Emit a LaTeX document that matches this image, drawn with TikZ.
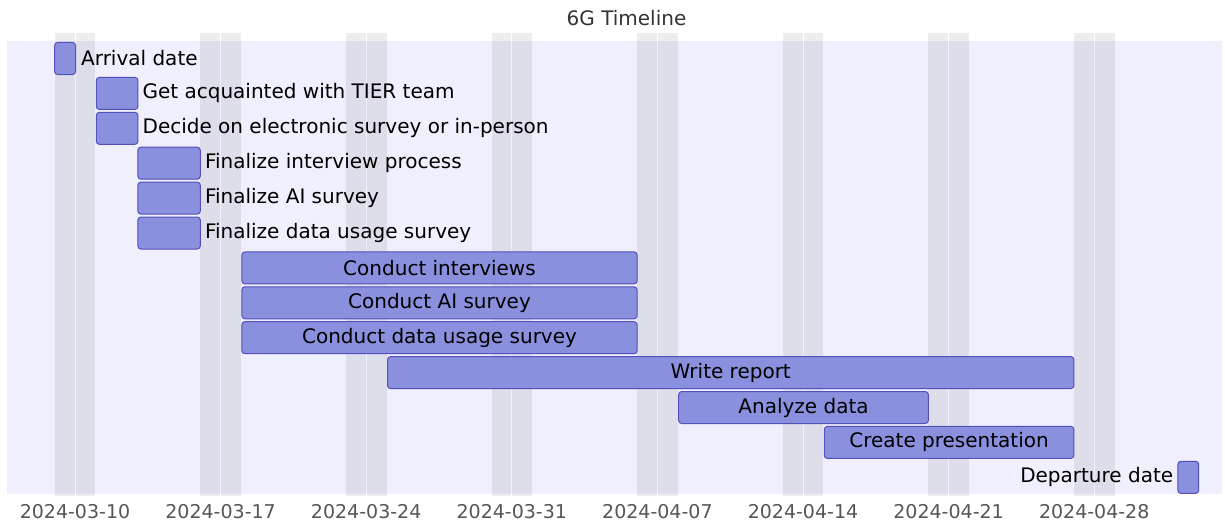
\documentclass[tikz,border=0pt]{standalone}
\usepackage{fontspec}
\setmainfont{DejaVu Sans}
\usetikzlibrary{positioning}
\definecolor{barfill}{HTML}{8A90DD}
\definecolor{barline}{HTML}{534FBC}
\definecolor{sectionbg}{HTML}{EFEFFD}
\definecolor{axisgrey}{HTML}{555555}
\newcommand{\tasksize}{\fontsize{20}{23}\selectfont}
\newcommand{\datesize}{\fontsize{19}{22}\selectfont}
% x position of a day, counted from 2024-03-10
\newcommand{\dayx}[1]{75+20.8*(#1)}
\tikzset{
	task/.style={draw=barline, fill=barfill, line width=1pt, rounded corners=3pt, minimum height=32pt, inner sep=0pt, anchor=west, font=\tasksize},
	tasklabel/.style={inner sep=0pt, font=\tasksize, text=black},
	weekend/.style={fill=black, fill opacity=0.07, draw=none},
	datelabel/.style={font=\datesize, text=axisgrey, inner sep=0pt},
}

\begin{document}
\begin{tikzpicture}[x=1pt, y=-1pt]
	\useasboundingbox (0,0) rectangle (1225,527);
	
	\fill[sectionbg] (7,41) rectangle (1222,494);
	
	% weekends
	\foreach \d in {-1,6,...,48} {
		\fill[weekend] ({\dayx{\d}+0.5},33) rectangle ({\dayx{\d+1}-0.5},496);
		\fill[weekend] ({\dayx{\d+1}+0.5},33) rectangle ({\dayx{\d+2}-0.5},496);
	}
	
	\node (title) [tasklabel, text=black!80] at (626.5,18.5) {6G Timeline};
	
	\node (b1) [task, minimum width=20.8pt] at ({\dayx{-1}},58.5) {};
	\node (t1) [tasklabel, right=5pt of b1] {Arrival date};
	
	\node (b2) [task, minimum width=41.6pt] at ({\dayx{1}},93.4) {};
	\node (t2) [tasklabel, right=4pt of b2] {Get acquainted with TIER team};
	
	\node (b3) [task, minimum width=41.6pt] at ({\dayx{1}},128.3) {};
	\node (t3) [tasklabel, right=4pt of b3] {Decide on electronic survey or in-person};
	
	\node (b4) [task, minimum width=62.4pt] at ({\dayx{3}},163.2) {};
	\node (t4) [tasklabel, right=4pt of b4] {Finalize interview process};
	
	\node (b5) [task, minimum width=62.4pt] at ({\dayx{3}},198.1) {};
	\node (t5) [tasklabel, right=4pt of b5] {Finalize AI survey};
	
	\node (b6) [task, minimum width=62.4pt] at ({\dayx{3}},233) {};
	\node (t6) [tasklabel, right=4pt of b6] {Finalize data usage survey};
	
	\node (b7) [task, minimum width=395.2pt] at ({\dayx{8}},267.9) {Conduct interviews};
	\node (b8) [task, minimum width=395.2pt] at ({\dayx{8}},302.8) {Conduct AI survey};
	\node (b9) [task, minimum width=395.2pt] at ({\dayx{8}},337.7) {Conduct data usage survey};
	
	\node (b10) [task, minimum width=686.4pt] at ({\dayx{15}},372.6) {Write report};
	\node (b11) [task, minimum width=249.6pt] at ({\dayx{29}},407.5) {Analyze data};
	\node (b12) [task, minimum width=249.6pt] at ({\dayx{36}},442.4) {Create presentation};
	
	\node (b13) [task, minimum width=20.8pt] at ({\dayx{53}},477.3) {};
	\node (t13) [tasklabel, left=4pt of b13] {Departure date};
	
	% date axis
	\foreach \k/\lab in {0/2024-03-10, 1/2024-03-17, 2/2024-03-24, 3/2024-03-31, 4/2024-04-07, 5/2024-04-14, 6/2024-04-21, 7/2024-04-28} {
		\node (d\k) [datelabel] at ({\dayx{7*\k}},512) {\lab};
	}
	
\end{tikzpicture}
\end{document}
